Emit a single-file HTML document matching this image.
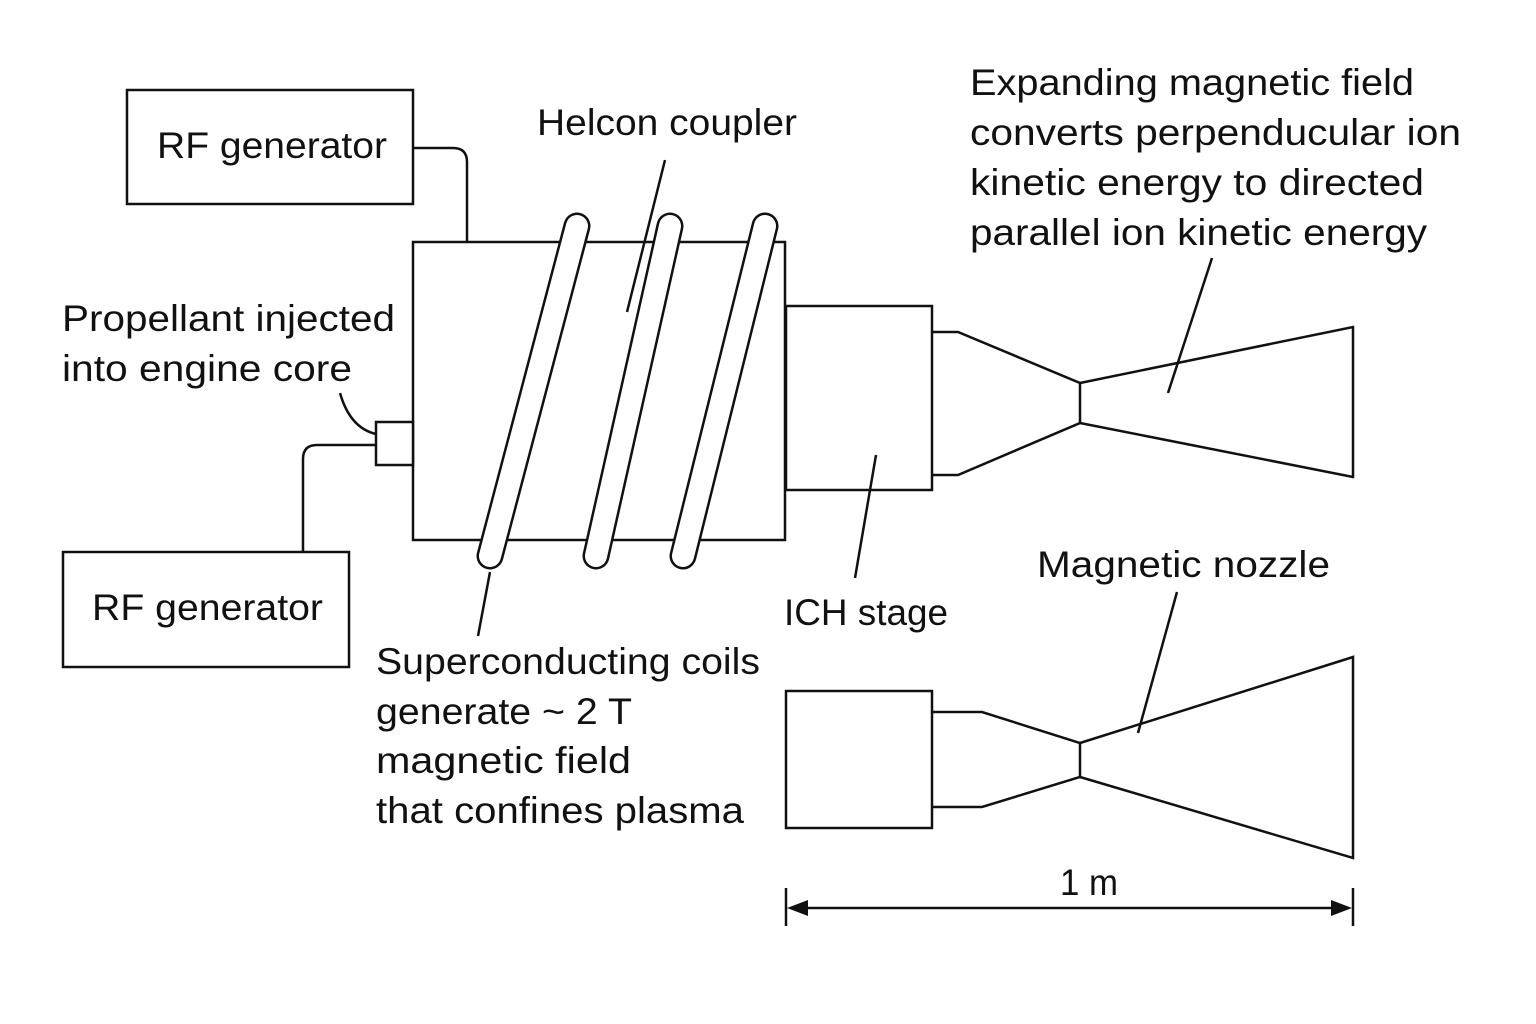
<!DOCTYPE html>
<html><head><meta charset="utf-8"><style>
html,body{margin:0;padding:0;background:#fff;}
svg{display:block;}
text{font-family:"Liberation Sans",sans-serif;font-size:37px;fill:#111;}
</style></head><body>
<svg width="1536" height="1024" viewBox="0 0 1536 1024">
<g fill="none" stroke="#111" stroke-width="2.5">
  <rect x="127" y="90" width="286" height="114" fill="#fff"/>
  <path d="M413 148 H453 Q467 148 467 162 V242"/>
  <rect x="413" y="242" width="372" height="298" fill="#fff"/>
  <path d="M340 393 Q350 428 376 434"/>
  <rect x="376" y="422" width="37" height="43" fill="#fff"/>
  <path d="M376 445 H317 Q303 445 303 459 V552"/>
  <rect x="63" y="552" width="286" height="115" fill="#fff"/>
</g>
<g stroke-linecap="round">
  <line x1="577" y1="226" x2="490" y2="556" stroke="#111" stroke-width="27"/>
  <line x1="577" y1="226" x2="490" y2="556" stroke="#fff" stroke-width="22"/>
  <line x1="670" y1="226" x2="596" y2="556" stroke="#111" stroke-width="27"/>
  <line x1="670" y1="226" x2="596" y2="556" stroke="#fff" stroke-width="22"/>
  <line x1="765" y1="226" x2="683" y2="556" stroke="#111" stroke-width="27"/>
  <line x1="765" y1="226" x2="683" y2="556" stroke="#fff" stroke-width="22"/>
</g>
<g fill="none" stroke="#111" stroke-width="2.5">
  <line x1="665" y1="160" x2="627" y2="312"/>
  <line x1="490" y1="572" x2="478" y2="636"/>
  <rect x="786" y="306" width="146" height="184"/>
  <path d="M932 332 H958 L1080 383 V423 L958 475 H932"/>
  <path d="M1080 383 L1353 327 V477 L1080 423"/>
  <line x1="876" y1="455" x2="855" y2="578"/>
  <line x1="1212" y1="258" x2="1168" y2="393"/>
  <rect x="786" y="691" width="146" height="137"/>
  <path d="M932 712 H982 L1080 743 V777 L982 807 H932"/>
  <path d="M1080 743 L1353 657 V858 L1080 777"/>
  <line x1="1177" y1="592" x2="1138" y2="733"/>
  <line x1="786" y1="888" x2="786" y2="926"/>
  <line x1="1353" y1="888" x2="1353" y2="926"/>
  <line x1="800" y1="908" x2="1339" y2="908"/>
</g>
<path d="M787 908 L808 900 L808 916 Z M1352 908 L1331 900 L1331 916 Z" fill="#111"/>
<text x="157" y="158" textLength="230" lengthAdjust="spacingAndGlyphs">RF generator</text>
<text x="92" y="620" textLength="231" lengthAdjust="spacingAndGlyphs">RF generator</text>
<text x="62" y="331" textLength="333" lengthAdjust="spacingAndGlyphs">Propellant injected</text>
<text x="62" y="381" textLength="290" lengthAdjust="spacingAndGlyphs">into engine core</text>
<text x="537" y="135" textLength="260" lengthAdjust="spacingAndGlyphs">Helcon coupler</text>
<text x="970" y="95" textLength="444" lengthAdjust="spacingAndGlyphs">Expanding magnetic field</text>
<text x="970" y="145" textLength="491" lengthAdjust="spacingAndGlyphs">converts perpenducular ion</text>
<text x="970" y="195" textLength="454" lengthAdjust="spacingAndGlyphs">kinetic energy to directed</text>
<text x="970" y="245" textLength="457" lengthAdjust="spacingAndGlyphs">parallel ion kinetic energy</text>
<text x="784" y="625" textLength="164" lengthAdjust="spacingAndGlyphs">ICH stage</text>
<text x="1037" y="577" textLength="293" lengthAdjust="spacingAndGlyphs">Magnetic nozzle</text>
<text x="376" y="674" textLength="384" lengthAdjust="spacingAndGlyphs">Superconducting coils</text>
<text x="376" y="724" textLength="256" lengthAdjust="spacingAndGlyphs">generate ~ 2 T</text>
<text x="376" y="773" textLength="255" lengthAdjust="spacingAndGlyphs">magnetic field</text>
<text x="376" y="823" textLength="368" lengthAdjust="spacingAndGlyphs">that confines plasma</text>
<text x="1060" y="895" textLength="58" lengthAdjust="spacingAndGlyphs">1 m</text>
</svg>
</body></html>
